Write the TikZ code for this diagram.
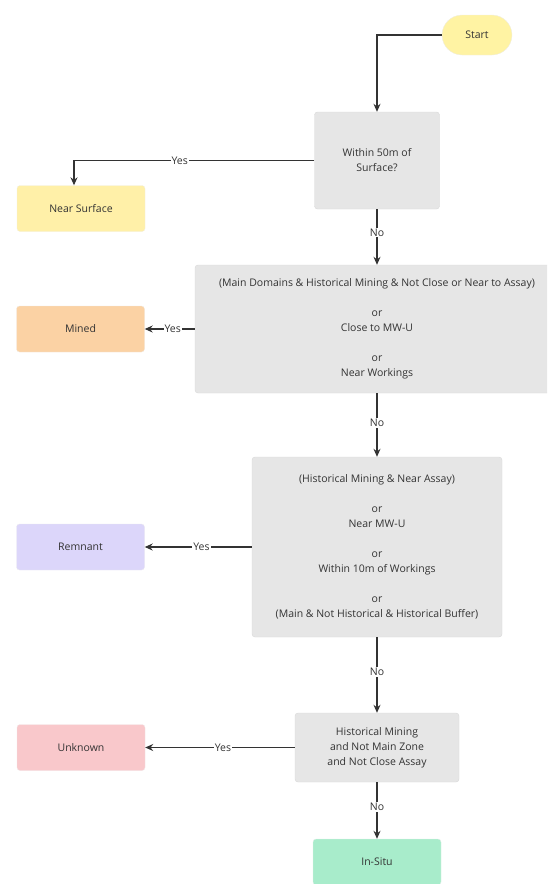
\documentclass[tikz,border=0pt]{standalone}
\usepackage{fontspec}
\setmainfont{Open Sans}
\definecolor{decfill}{HTML}{E6E6E6}
\definecolor{decline}{HTML}{D8D8D8}
\definecolor{startfill}{HTML}{FFF3A3}
\definecolor{nearfill}{HTML}{FFF0A8}
\definecolor{minedfill}{HTML}{FBD2A4}
\definecolor{remfill}{HTML}{DCD6FA}
\definecolor{unkfill}{HTML}{F9C8CB}
\definecolor{situfill}{HTML}{A8ECCB}
\definecolor{wire}{HTML}{333333}
\usetikzlibrary{arrows.meta,positioning}

\begin{document}
\begin{tikzpicture}[x=1pt, y=-1pt, >={Stealth[length=8pt,width=7pt]},
    font=\fontsize{10.5}{15}\selectfont,
    dec/.style={draw=decline, fill=decfill, rounded corners=3pt, align=center,
                inner sep=0pt, text=wire},
    term/.style={draw=#1!80!black!25, fill=#1, rounded corners=3pt, align=center,
                 minimum width=128pt, minimum height=46pt, inner sep=0pt, text=wire},
    flow/.style={->, wire, line width=1.2pt},
    lbl/.style={fill=white, inner sep=1pt, text=wire}]

  \useasboundingbox (0,0) rectangle (547,884);
  \clip (0,0) rectangle (547,884);

  % Terminals
  \node[draw=startfill!70!black!20, fill=startfill, rounded corners=20pt, text=wire,
        minimum width=70pt, minimum height=40pt] (start) at (477,35) {Start};
  \node[term=nearfill] (nearsurf) at (81,208.5) {Near Surface};
  \node[term=minedfill] (mined) at (80.5,329) {Mined};
  \node[term=remfill] (remnant) at (80.5,547) {Remnant};
  \node[term=unkfill] (unknown) at (81,747.5) {Unknown};
  \node[term=situfill] (insitu) at (377,862) {In-Situ};

  % Decisions
  \node[dec, minimum width=125pt, minimum height=97pt] (d1) at (377,160.5)
    {Within 50m of\\Surface?};
  \node[dec, minimum width=364pt, minimum height=128pt] (d2) at (377,329)
    {(Main Domains \& Historical Mining \& Not Close or Near to Assay)\\[15pt]
     or\\Close to MW-U\\[15pt]or\\Near Workings};
  \node[dec, minimum width=250pt, minimum height=180pt] (d3) at (377,547)
    {(Historical Mining \& Near Assay)\\[15pt]or\\Near MW-U\\[15pt]
     or\\Within 10m of Workings\\[15pt]or\\(Main \& Not Historical \& Historical Buffer)};
  \node[dec, minimum width=164pt, minimum height=69pt] (d4) at (377,747.5)
    {Historical Mining\\and Not Main Zone\\and Not Close Assay};

  \draw[flow] (start.west) -| (d1.north);
  \draw[flow] (d1.west) -| node[lbl, pos=0.28] {Yes} ([xshift=-7pt]nearsurf.north);
  \draw[flow] (d1.south) -- node[lbl, pos=0.42] {No} (d2.north);
  \draw[flow] (d2.west) -- node[lbl, pos=0.44] {Yes} (mined.east);
  \draw[flow] (d2.south) -- node[lbl, pos=0.47] {No} (d3.north);
  \draw[flow] (d3.west) -- node[lbl, pos=0.47] {Yes} (remnant.east);
  \draw[flow] (d3.south) -- node[lbl, pos=0.46] {No} (d4.north);
  \draw[flow] (d4.west) -- node[lbl, pos=0.48] {Yes} (unknown.east);
  \draw[flow] (d4.south) -- node[lbl, pos=0.44] {No} (insitu.north);
\end{tikzpicture}
\end{document}
